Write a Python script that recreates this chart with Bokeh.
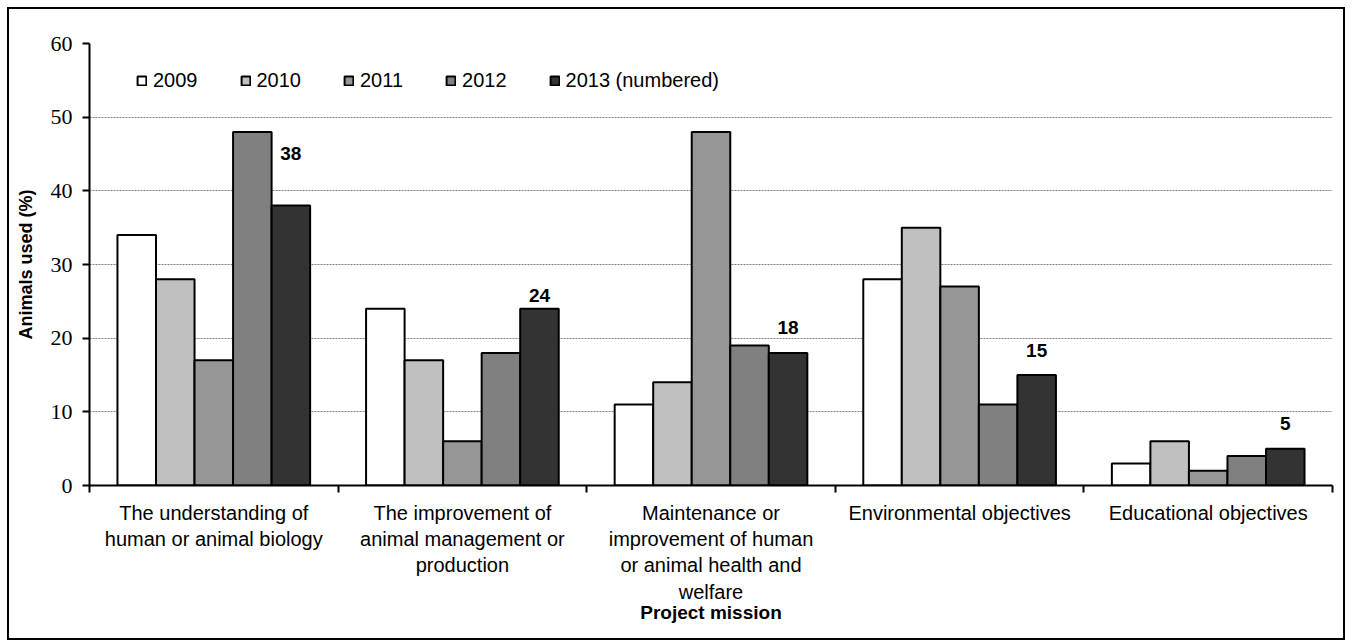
from bokeh.plotting import figure
from bokeh.models import (ColumnDataSource, FixedTicker, Legend, LegendItem,
                          LabelSet, Range1d)
from bokeh.core.properties import value
from bokeh.embed import file_html
from bokeh.resources import INLINE

# ---------------- data ----------------
categories = [
    "The understanding of\nhuman or animal biology",
    "The improvement of\nanimal management or\nproduction",
    "Maintenance or\nimprovement of human\nor animal health and\nwelfare",
    "Environmental objectives",
    "Educational objectives",
]
years = ["2009", "2010", "2011", "2012", "2013 (numbered)"]
v2009 = [34, 24, 11, 28, 3]
v2010 = [28, 17, 14, 35, 6]
v2011 = [17, 6, 48, 27, 2]
v2012 = [48, 18, 19, 11, 4]
v2013 = [38, 24, 18, 15, 5]
y_ticks = [0, 10, 20, 30, 40, 50, 60]

# ---------------- styling ----------------
series = [v2009, v2010, v2011, v2012, v2013]
colors = ["#FFFFFF", "#C0C0C0", "#969696", "#808080", "#333333"]
bar_w = 0.155
offsets = [-2 * bar_w, -bar_w, 0.0, bar_w, 2 * bar_w]
label_lift = [52, 13, 25, 25, 25]   # px above the 2013 bar top

n = len(categories)
centers = [i + 0.5 for i in range(n)]

p = figure(width=1338, height=633, output_backend="svg", toolbar_location=None,
           x_range=Range1d(0, n), y_range=Range1d(0, 60),
           min_border_left=80, min_border_right=15, min_border_top=34,
           min_border_bottom=157)
p.margin = (7, 0, 0, 7)
p.styles = {"border": "2px solid black"}
p.outline_line_color = None
p.background_fill_color = "white"
p.border_fill_color = "white"

renderers = []
for vals, col, off in zip(series, colors, offsets):
    src = ColumnDataSource(dict(x=[c + off for c in centers], top=vals))
    r = p.vbar(x="x", top="top", bottom=0, width=bar_w, source=src,
               fill_color=col, line_color="black", line_width=2)
    renderers.append(r)

# data labels for 2013
lab_src = ColumnDataSource(dict(x=[c + offsets[4] for c in centers], y=v2013,
                                txt=[str(v) for v in v2013], lift=label_lift))
labels = LabelSet(x="x", y="y", text="txt", y_offset="lift", source=lab_src,
                  text_align="center", text_baseline="middle",
                  text_font=value("Liberation Sans"), text_font_style="bold",
                  text_font_size="19px", text_color="black")
p.add_layout(labels)

# grid
p.xgrid.visible = False
p.ygrid.ticker = FixedTicker(ticks=y_ticks)
p.ygrid.grid_line_color = "#808080"
p.ygrid.grid_line_width = 1
p.ygrid.grid_line_dash = "2 1"

# y axis
p.yaxis.ticker = FixedTicker(ticks=y_ticks)
p.yaxis.axis_line_width = 2
p.yaxis.axis_line_color = "black"
p.yaxis.major_tick_line_width = 2
p.yaxis.major_tick_out = 7
p.yaxis.major_tick_in = 0
p.yaxis.minor_tick_line_color = None
p.yaxis.major_label_text_font = "Liberation Serif"
p.yaxis.major_label_text_font_size = "22px"
p.yaxis.major_label_text_color = "black"
p.yaxis.major_label_standoff = 10
p.yaxis.axis_label = "Animals used (%)"
p.yaxis.axis_label_text_font = "Liberation Sans"
p.yaxis.axis_label_text_font_style = "bold"
p.yaxis.axis_label_text_font_size = "18px"
p.yaxis.axis_label_text_color = "black"
p.yaxis.axis_label_standoff = 12

# x axis
p.xaxis.ticker = FixedTicker(ticks=centers, minor_ticks=list(range(n + 1)))
p.xaxis.major_label_overrides = {c: lab for c, lab in zip(centers, categories)}
p.xaxis.axis_line_width = 2
p.xaxis.axis_line_color = "black"
p.xaxis.major_tick_line_color = None
p.xaxis.major_tick_out = 0
p.xaxis.major_tick_in = 0
p.xaxis.minor_tick_line_color = "black"
p.xaxis.minor_tick_line_width = 2
p.xaxis.minor_tick_out = 7
p.xaxis.minor_tick_in = 0
p.xaxis.major_label_text_font = "Liberation Sans"
p.xaxis.major_label_text_font_size = "20px"
p.xaxis.major_label_text_color = "black"
p.xaxis.major_label_standoff = 9
p.xaxis.axis_label = "Project mission"
p.xaxis.axis_label_text_font = "Liberation Sans"
p.xaxis.axis_label_text_font_style = "bold"
p.xaxis.axis_label_text_font_size = "19px"
p.xaxis.axis_label_text_color = "black"
p.xaxis.axis_label_standoff = -4

# legend
legend = Legend(items=[LegendItem(label=y, renderers=[r]) for y, r in zip(years, renderers)],
                orientation="horizontal", location=(47, 393),
                glyph_width=11, glyph_height=11, label_standoff=6, spacing=42,
                padding=0, margin=0, label_text_font="Liberation Sans",
                label_text_font_size="20px", label_text_color="black",
                label_height=20, background_fill_alpha=0, border_line_color=None)
p.add_layout(legend)

open("out.html", "w").write(file_html(p, INLINE))
